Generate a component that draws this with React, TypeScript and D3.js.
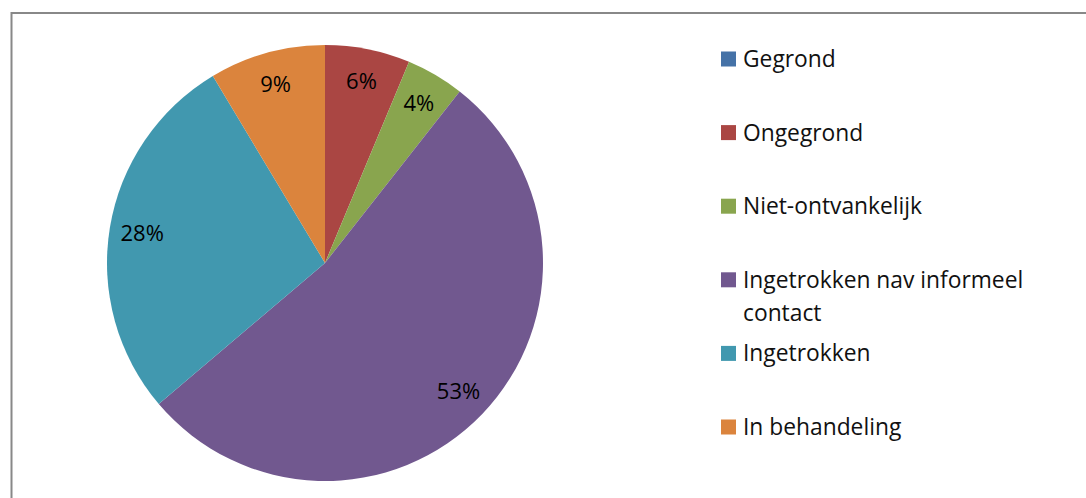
import React, { useEffect, useRef } from 'react';
import * as d3 from 'd3';

const categories = [
  'Gegrond',
  'Ongegrond',
  'Niet-ontvankelijk',
  'Ingetrokken nav informeel contact',
  'Ingetrokken',
  'In behandeling',
];
// shares (percent)
const values = [0, 6.3, 4.3, 53.2, 27.6, 8.6];
const colors = ['#4572A7', '#AA4643', '#89A54E', '#71588F', '#4198AF', '#DB843D'];
const legendLines = [
  ['Gegrond'],
  ['Ongegrond'],
  ['Niet-ontvankelijk'],
  ['Ingetrokken nav informeel', 'contact'],
  ['Ingetrokken'],
  ['In behandeling'],
];

const W = 1086;
const H = 498;

export default function App() {
  const ref = useRef<SVGSVGElement>(null);

  useEffect(() => {
    const svg = d3.select(ref.current);
    svg.selectAll('*').remove();

    const font = '"Open Sans", sans-serif';

    svg.append('rect')
      .attr('x', 11.5).attr('y', 13)
      .attr('width', 1200).attr('height', 600)
      .attr('fill', 'white')
      .attr('stroke', '#888888')
      .attr('stroke-width', 2);

    const cx = 325, cy = 263, r = 218;
    const data = categories.map((c, i) => ({ name: c, value: values[i], color: colors[i] }));
    const total = d3.sum(values);

    const pie = d3.pie<any>().value((d) => d.value).sort(null);
    const arc = d3.arc<any>().innerRadius(0).outerRadius(r);
    const labelArc = d3.arc<any>().innerRadius(r * 0.85).outerRadius(r * 0.85);

    const g = svg.append('g').attr('transform', `translate(${cx},${cy})`);
    const arcs = pie(data);

    g.selectAll('path')
      .data(arcs)
      .enter()
      .append('path')
      .attr('d', arc)
      .attr('fill', (d) => d.data.color);

    g.selectAll('text.lbl')
      .data(arcs.filter((d) => d.data.value > 0))
      .enter()
      .append('text')
      .attr('class', 'lbl')
      .attr('transform', (d) => `translate(${labelArc.centroid(d)})`)
      .attr('text-anchor', 'middle')
      .attr('dy', '0.35em')
      .attr('font-family', font)
      .attr('font-size', 22)
      .attr('fill', '#000')
      .text((d) => Math.round((d.data.value / total) * 100) + '%');

    const legendY = d3.scalePoint<number>()
      .domain(d3.range(categories.length))
      .range([59, 427]);

    const leg = svg.append('g');
    const items = leg.selectAll('g.item')
      .data(data)
      .enter()
      .append('g')
      .attr('class', 'item')
      .attr('transform', (d, i) => `translate(721,${legendY(i)})`);

    items.append('rect')
      .attr('x', 0).attr('y', -7.5)
      .attr('width', 15).attr('height', 15)
      .attr('fill', (d) => d.color);

    items.append('text')
      .attr('x', 22)
      .attr('font-family', font)
      .attr('font-size', 22.8)
      .attr('fill', '#111')
      .each(function (d, i) {
        const t = d3.select(this);
        legendLines[i].forEach((line, j) => {
          t.append('tspan')
            .attr('x', 22)
            .attr('y', j * 33)
            .attr('dy', '0.35em')
            .text(line);
        });
      });
  }, []);

  return (
    <svg
      ref={ref}
      width={W}
      height={H}
      style={{ position: 'absolute', left: 0, top: 0, display: 'block' }}
    />
  );
}
